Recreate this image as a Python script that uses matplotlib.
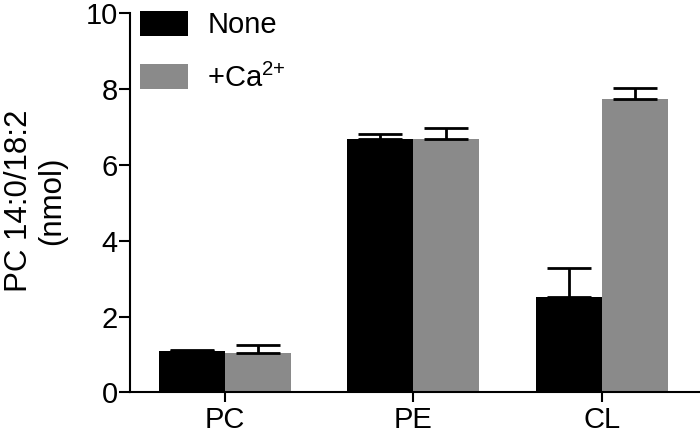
import matplotlib
matplotlib.use('Agg')
import matplotlib.pyplot as plt
import numpy as np

# 数据
categories = ['PC', 'PE', 'CL']
none_vals = [1.09, 6.68, 2.51]
none_err = [0.03, 0.13, 0.76]
ca_vals = [1.05, 6.68, 7.73]
ca_err = [0.20, 0.30, 0.30]
labels = ['None', '+Ca$^{\\mathrm{2{+}}}$']

plt.rcParams['font.family'] = ['Liberation Sans', 'DejaVu Sans']
plt.rcParams['mathtext.fontset'] = 'custom'
plt.rcParams['mathtext.rm'] = 'Liberation Sans'

fig = plt.figure(figsize=(7, 4.37), dpi=100)
ax = fig.add_axes([0.186, 0.102, 0.814, 0.868])

x = np.arange(len(categories))
w = 0.35
ekw = dict(elinewidth=2, capthick=2, capsize=16, ecolor='black')
ax.bar(x - w / 2, none_vals, w, color='black', label=labels[0],
       yerr=[np.zeros(3), none_err], error_kw=ekw)
ax.bar(x + w / 2, ca_vals, w, color='#8a8a8a', label=labels[1],
       yerr=[np.zeros(3), ca_err], error_kw=ekw)

ax.set_xlim(-0.5, 2.52)
ax.set_ylim(0, 10)
ax.set_yticks([0, 2, 4, 6, 8, 10])
ax.set_xticks(x)
ax.set_xticklabels(categories)
ax.tick_params(axis='both', labelsize=21, width=1.5, direction='out')
ax.tick_params(axis='y', length=8, pad=1)
ax.tick_params(axis='x', length=7, pad=3)
for s in ['top', 'right']:
    ax.spines[s].set_visible(False)
for s in ['left', 'bottom']:
    ax.spines[s].set_linewidth(1.5)

ax.set_ylabel('PC 14:0/18:2\n(nmol)', fontsize=22.5, linespacing=1.15)
ax.yaxis.set_label_coords(-0.11, 0.505)

ax.legend(loc='upper left', bbox_to_anchor=(0.0175, 1.006), frameon=False,
          fontsize=21, handlelength=1.65, handleheight=0.93,
          handletextpad=0.65, labelspacing=0.83, borderpad=0,
          borderaxespad=0)

plt.savefig('out.png', dpi=100)
plt.close()
